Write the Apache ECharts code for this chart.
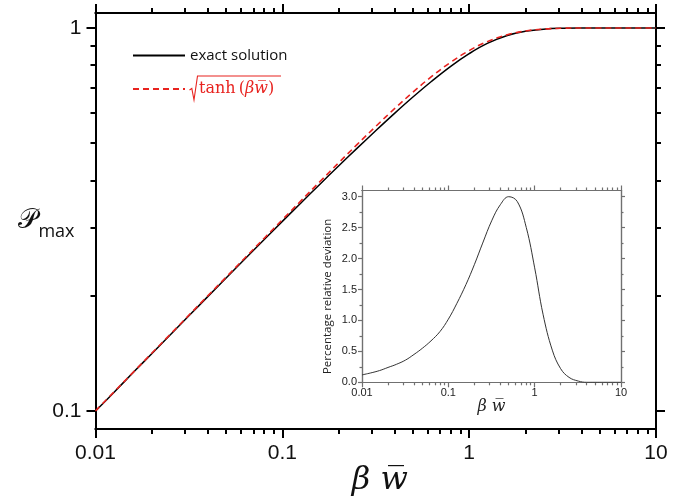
<!DOCTYPE html>
<html>
<head>
<meta charset="utf-8">
<script src="https://cdn.jsdelivr.net/npm/echarts@6/dist/echarts.min.js"></script>
<style>
  html, body { margin: 0; background: #fff; }
  #chart { width: 687px; height: 502px; }
</style>
</head>
<body>
<div id="chart"></div>
<script>
// beta * w-bar sample points (about ten per decade)
const bw = [0.01, 0.0125, 0.016, 0.02, 0.025, 0.032, 0.04, 0.05, 0.063, 0.08,
            0.1, 0.125, 0.16, 0.2, 0.25, 0.32, 0.4, 0.5, 0.63, 0.8,
            1.0, 1.25, 1.6, 2.0, 2.5, 3.2, 4, 5, 6.3, 8, 10];
// P_max, exact solution
const exactP = [0.0999, 0.1116, 0.1263, 0.1411, 0.1576, 0.1782, 0.1991, 0.2223, 0.2492, 0.2802,
                0.3125, 0.3482, 0.3921, 0.4360, 0.4840, 0.5421, 0.5992, 0.6600, 0.7258, 0.7950,
                0.8568, 0.9110, 0.9551, 0.9797, 0.9925, 0.9981, 0.9997, 1.0, 1.0, 1.0, 1.0];
// sqrt(tanh(beta w)) approximation
const approxP = [0.1000, 0.1118, 0.1265, 0.1414, 0.1581, 0.1789, 0.2000, 0.2235, 0.2508, 0.2825,
                 0.3157, 0.3526, 0.3983, 0.4443, 0.4949, 0.5563, 0.6164, 0.6798, 0.7470, 0.8149,
                 0.8727, 0.9210, 0.9600, 0.9819, 0.9933, 0.9983, 0.9997, 1.0, 1.0, 1.0, 1.0];
// percentage relative deviation (inset)
const devPct = [0.12, 0.15, 0.19, 0.24, 0.29, 0.36, 0.45, 0.55, 0.67, 0.82,
                1.02, 1.27, 1.58, 1.9, 2.25, 2.62, 2.87, 3.0, 2.92, 2.5,
                1.85, 1.1, 0.52, 0.22, 0.08, 0.02, 0.0, 0.0, 0.0, 0.0, 0.0];

const decadeTicks = [0.01, 0.1, 1, 10];
const minorXTicks = [0.02, 0.03, 0.04, 0.05, 0.06, 0.07, 0.08, 0.09, 0.2, 0.3, 0.4, 0.5, 0.6, 0.7, 0.8, 0.9, 2, 3, 4, 5, 6, 7, 8, 9];
const mainYTicks = [0.1, 1];
const mainYMinor = [0.2, 0.3, 0.4, 0.5, 0.6, 0.7, 0.8, 0.9];
const insetYTicks = [0, 0.5, 1, 1.5, 2, 2.5, 3];
const insetYMinor = [0.25, 0.75, 1.25, 1.75, 2.25, 2.75];

const chart = echarts.init(document.getElementById('chart'));

const mainLook = { color: '#000', width: 2, font: 21, labelColor: '#111', margin: 14 };
const insetLook = { color: '#707070', width: 1.2, font: 11, labelColor: '#222', margin: 5 };
const red = '#e8231f';

const logLabel = v => String(Number(Number(v).toPrecision(2)));

function axis(grid, position, type, range, ticks, len, look, labels, fmt) {
  const a = {
    type: type,
    gridIndex: grid,
    position: position,
    min: range[0],
    max: range[1],
    nameMoveOverlap: false,
    axisLine: { show: true, onZero: false, lineStyle: { color: look.color, width: look.width } },
    axisTick: { show: true, inside: false, length: len, customValues: ticks,
      lineStyle: { color: look.color, width: look.width } },
    axisLabel: { show: false },
    splitLine: { show: false },
    minorTick: { show: false }
  };
  if (type === 'log') a.logBase = 10;
  if (labels) {
    a.axisLabel = { show: true, customValues: labels, formatter: fmt, margin: look.margin,
      fontSize: look.font, color: look.labelColor, fontFamily: 'Liberation Sans' };
  }
  return a;
}

const mainX = [0.01, 10];
const mainY = [0.0897, 1.094];
const insetX = [0.01, 10];
const insetY = [0, 3.1];

const xAxes = [
  axis(0, 'bottom', 'log', mainX, decadeTicks, 9, mainLook, decadeTicks, logLabel),
  axis(0, 'bottom', 'log', mainX, minorXTicks, 5, mainLook),
  axis(0, 'top', 'log', mainX, decadeTicks, 9, mainLook),
  axis(0, 'top', 'log', mainX, minorXTicks, 5, mainLook),
  axis(1, 'bottom', 'log', insetX, decadeTicks, 5, insetLook, decadeTicks, logLabel),
  axis(1, 'bottom', 'log', insetX, minorXTicks, 3, insetLook),
  axis(1, 'top', 'log', insetX, decadeTicks, 5, insetLook),
  axis(1, 'top', 'log', insetX, minorXTicks, 3, insetLook)
];
const yAxes = [
  axis(0, 'left', 'log', mainY, mainYTicks, 9, mainLook, mainYTicks, logLabel),
  axis(0, 'left', 'log', mainY, mainYMinor, 5, mainLook),
  axis(0, 'right', 'log', mainY, mainYTicks, 9, mainLook),
  axis(0, 'right', 'log', mainY, mainYMinor, 5, mainLook),
  axis(1, 'left', 'value', insetY, insetYTicks, 4, insetLook, insetYTicks, v => Number(v).toFixed(1)),
  axis(1, 'left', 'value', insetY, insetYMinor, 2.5, insetLook),
  axis(1, 'right', 'value', insetY, insetYTicks, 4, insetLook),
  axis(1, 'right', 'value', insetY, insetYMinor, 2.5, insetLook)
];

// axis titles
xAxes[0].name = 'β w\u0305';
xAxes[0].nameLocation = 'middle';
xAxes[0].nameGap = 36;
xAxes[0].nameTextStyle = { fontFamily: 'DejaVu Serif', fontStyle: 'italic', fontSize: 32, color: '#111', padding: [0, 0, 0, 8] };

yAxes[0].name = '{p|𝒫}{m|max}';
yAxes[0].nameLocation = 'middle';
yAxes[0].nameRotate = 0;
yAxes[0].nameGap = 21;
yAxes[0].nameTextStyle = {
  color: '#111',
  rich: {
    p: { fontFamily: 'DejaVu Sans', fontSize: 27, color: '#111', verticalAlign: 'bottom' },
    m: { fontFamily: 'Open Sans', fontSize: 18, color: '#111', verticalAlign: 'bottom', padding: [0, 0, -6, 1] }
  }
};

xAxes[4].name = 'β w\u0305';
xAxes[4].nameLocation = 'middle';
xAxes[4].nameGap = 17;
xAxes[4].nameTextStyle = { fontFamily: 'DejaVu Serif', fontStyle: 'italic', fontSize: 16, color: '#222' };

yAxes[4].name = 'Percentage relative deviation';
yAxes[4].nameLocation = 'middle';
yAxes[4].nameGap = 28;
yAxes[4].nameTextStyle = { fontFamily: 'Open Sans', fontSize: 11.5, color: '#222', padding: [0, 20, 0, 0] };

const legendBase = {
  left: 132, itemWidth: 52, itemHeight: 14, padding: 0, selectedMode: false,
  itemStyle: { opacity: 0 }
};

const option = {
  animation: false,
  backgroundColor: '#fff',
  grid: [
    { left: 95.5, right: 31, top: 13, bottom: 73, outerBoundsMode: 'none' },
    { left: 362, right: 66, top: 190.5, bottom: 119.7, show: true, backgroundColor: '#fff', borderWidth: 0, outerBoundsMode: 'none' }
  ],
  xAxis: xAxes,
  yAxis: yAxes,
  legend: [
    Object.assign({}, legendBase, {
      data: ['exact solution'], top: 48,
      textStyle: { fontFamily: 'Open Sans', fontSize: 15, color: '#111' }
    }),
    Object.assign({}, legendBase, {
      data: ['sqrt tanh'], top: 81,
      formatter: () => '{t|tanh\u2009(}{g|βw\u0305}{t|)}',
      textStyle: {
        color: red,
        rich: {
          t: { fontFamily: 'DejaVu Serif', fontSize: 16, color: red },
          g: { fontFamily: 'DejaVu Serif', fontStyle: 'italic', fontSize: 16, color: red }
        },
        padding: [0, 0, 0, 9]
      }
    })
  ],
  // radical sign drawn over the legend text
  graphic: [{
    type: 'polyline', silent: true,
    shape: { points: [[189.5, 90], [191.8, 88.5], [194, 100], [197.5, 76], [281, 76]] },
    style: { stroke: red, lineWidth: 1.1, fill: null }
  }],
  series: [
    {
      name: 'exact solution', type: 'line', xAxisIndex: 0, yAxisIndex: 0,
      data: bw.map((x, i) => [x, exactP[i]]),
      smooth: 0.4, symbol: 'none',
      lineStyle: { color: '#000', width: 1.5 }, itemStyle: { color: '#000' }
    },
    {
      name: 'sqrt tanh', type: 'line', xAxisIndex: 0, yAxisIndex: 0,
      data: bw.map((x, i) => [x, approxP[i]]),
      smooth: 0.4, symbol: 'none',
      lineStyle: { color: red, width: 1.6, type: [6, 4] }, itemStyle: { color: red }
    },
    {
      name: 'deviation', type: 'line', xAxisIndex: 4, yAxisIndex: 4,
      data: bw.map((x, i) => [x, devPct[i]]),
      smooth: 0.4, symbol: 'none',
      lineStyle: { color: '#333', width: 1 }
    }
  ]
};

chart.setOption(option);
</script>
</body>
</html>
